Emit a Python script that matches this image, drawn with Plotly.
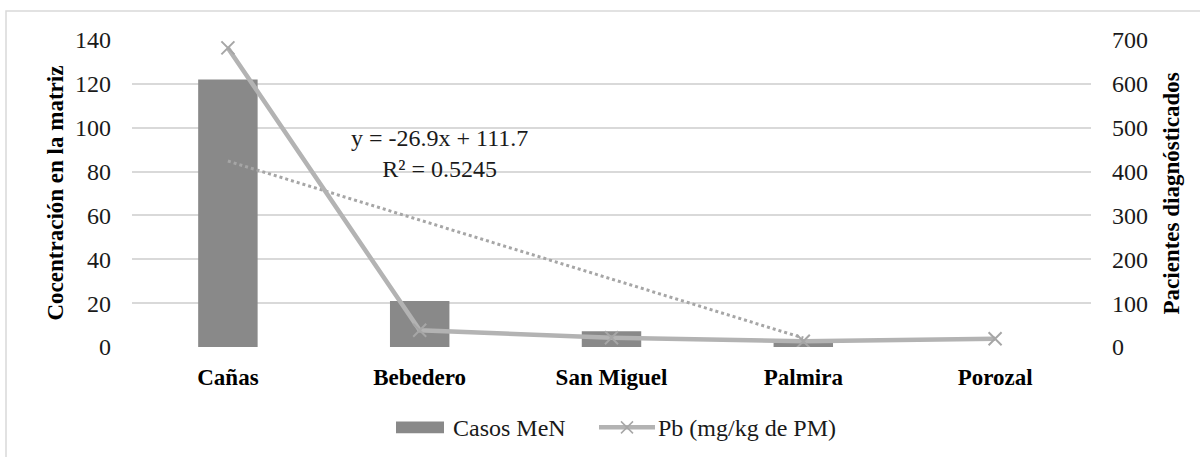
import plotly.graph_objects as go

categories = ["Cañas", "Bebedero", "San Miguel", "Palmira", "Porozal"]
casos_men = [122, 21, 7.2, 2, 0]
pb_values = [682, 38, 21, 13, 19]
trend_x = ["Cañas", "Palmira"]
trend_y = [84.8, 4.1]
left_ticks = [0, 20, 40, 60, 80, 100, 120, 140]
right_ticks = [0, 100, 200, 300, 400, 500, 600, 700]

FONT = "Liberation Serif, Times New Roman, serif"
W, H = 1200, 457
L, R, T, B = 132, 1091, 40, 347.5

def px(x):
    return (x - L) / (R - L)

def py(y):
    return (B - y) / (B - T)

BAR_COLOR = "#898989"
LINE_COLOR = "#b3b3b3"

fig = go.Figure()
fig.add_trace(go.Bar(
    x=categories, y=casos_men, name="Casos MeN",
    marker=dict(color=BAR_COLOR, line=dict(width=0)),
    yaxis="y", width=0.31, showlegend=False,
))
fig.add_trace(go.Scatter(
    x=trend_x, y=trend_y, mode="lines", showlegend=False,
    line=dict(color="#a6a6a6", width=3, dash="dot"), yaxis="y",
    hoverinfo="skip",
))
fig.add_trace(go.Scatter(
    x=categories, y=pb_values, name="Pb (mg/kg de PM)", mode="lines+markers",
    line=dict(color=LINE_COLOR, width=4.5),
    marker=dict(symbol="x-thin", size=13, line=dict(color="#a6a6a6", width=2), color="#a6a6a6"),
    yaxis="y2", showlegend=False,
))

legend_shapes = [
    dict(type="rect", xref="paper", yref="paper", x0=px(396), x1=px(444), y0=py(434), y1=py(422),
         fillcolor=BAR_COLOR, line=dict(width=0)),
    dict(type="line", xref="paper", yref="paper", x0=px(599), x1=px(655), y0=py(428), y1=py(428),
         line=dict(color=LINE_COLOR, width=4.5)),
    dict(type="line", xref="paper", yref="paper", x0=px(621), x1=px(633), y0=py(422), y1=py(434),
         line=dict(color="#a6a6a6", width=1.5)),
    dict(type="line", xref="paper", yref="paper", x0=px(621), x1=px(633), y0=py(434), y1=py(422),
         line=dict(color="#a6a6a6", width=1.5)),
]

fig.update_layout(
    width=W, height=H,
    margin=dict(l=L, r=W - R, t=T, b=H - B, autoexpand=False),
    paper_bgcolor="white", plot_bgcolor="white",
    font=dict(family=FONT, size=24, color="#1a1a1a"),
    showlegend=False,
    bargap=0.69,
    xaxis=dict(showgrid=False, showline=False, ticks="", tickvals=categories,
               ticktext=["<b>%s</b>" % c for c in categories],
               tickfont=dict(size=23, family=FONT, color="#000"),
               ticklabelstandoff=14),
    yaxis=dict(range=[0, 140], tickvals=left_ticks, showgrid=True, gridcolor="#d9d9d9", gridwidth=1.5,
               zeroline=False, showline=False, ticks="", ticklabelstandoff=20,
               tickfont=dict(size=24, family=FONT, color="#1a1a1a")),
    yaxis2=dict(range=[0, 700], tickvals=right_ticks, overlaying="y", side="right", showgrid=False,
                zeroline=False, showline=False, ticks="", ticklabelstandoff=20,
                tickfont=dict(size=24, family=FONT, color="#1a1a1a")),
    annotations=[
        dict(text="<b>Cocentración en la matriz</b>", xref="paper", yref="paper",
             x=px(55), y=0.5, xanchor="center", yanchor="middle", textangle=-90,
             showarrow=False, font=dict(size=23, family=FONT, color="#000")),
        dict(text="<b>Pacientes diagnósticados</b>", xref="paper", yref="paper",
             x=px(1171), y=0.5, xanchor="center", yanchor="middle", textangle=-90,
             showarrow=False, font=dict(size=23, family=FONT, color="#000")),
        dict(text="y = -26.9x + 111.7<br>R² = 0.5245", xref="paper", yref="paper",
             x=px(439), y=py(154), xanchor="center", yanchor="middle",
             showarrow=False, align="center", font=dict(size=24, family=FONT, color="#1a1a1a")),
        dict(text="Casos MeN", xref="paper", yref="paper", x=px(451), y=py(429),
             xanchor="left", yanchor="middle", showarrow=False,
             font=dict(size=24, family=FONT, color="#1a1a1a")),
        dict(text="Pb (mg/kg de PM)", xref="paper", yref="paper", x=px(656), y=py(429),
             xanchor="left", yanchor="middle", showarrow=False,
             font=dict(size=24, family=FONT, color="#1a1a1a")),
    ],
    shapes=[
        dict(type="rect", xref="paper", yref="paper",
             x0=px(6), x1=px(1250), y0=py(500), y1=py(11),
             line=dict(color="#d9d9d9", width=1.5), fillcolor="rgba(0,0,0,0)", layer="below"),
    ] + legend_shapes,
)

fig.write_html("out.html", config={"displayModeBar": False},
               post_script="document.body.style.margin='0';document.body.style.padding='0';")
